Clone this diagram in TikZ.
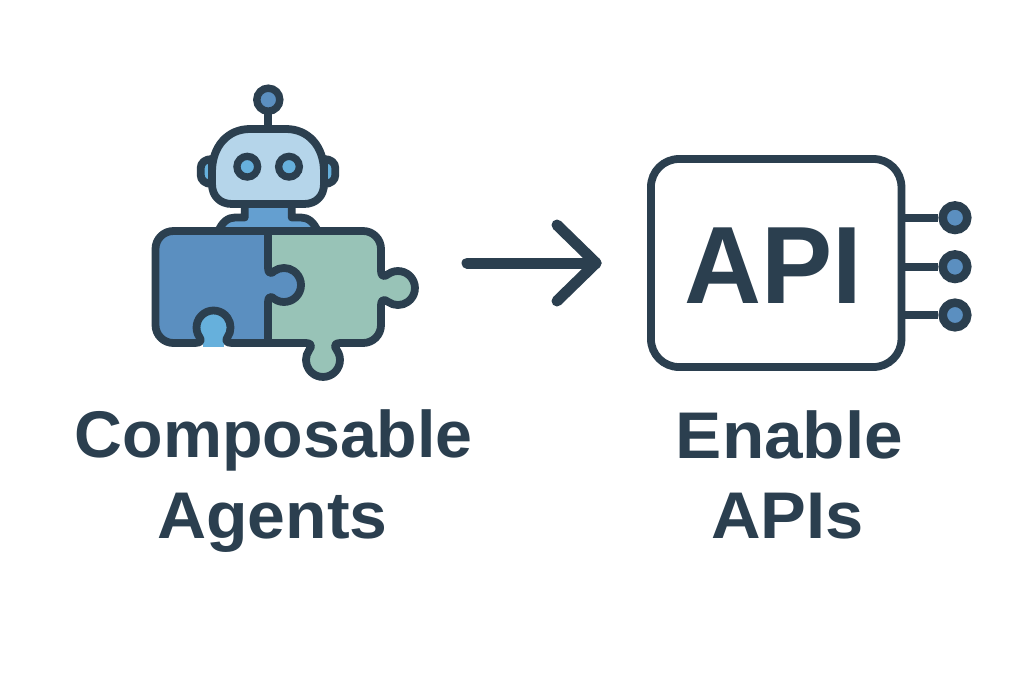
\documentclass[tikz,border=0pt]{standalone}
\usepackage{graphicx}
\usepackage{fontspec}
\setmainfont{Liberation Sans}
\definecolor{ink}{HTML}{2B3F4F}
\definecolor{pblue}{HTML}{5B8FC0}
\definecolor{pgreen}{HTML}{98C3B7}
\definecolor{plight}{HTML}{B5D5EA}
\definecolor{psky}{HTML}{66B0DC}
\definecolor{pneck}{HTML}{649FD0}
\tikzset{
  outline/.style={draw=ink,line width=7.8pt,line join=round},
  arrowline/.style={draw=ink,line width=11pt,line cap=round,line join=round},
  ring/.style={circle,draw=ink,inner sep=0pt},
  label/.style={text=ink,font=\bfseries\fontsize{66}{66}\selectfont,inner sep=0pt,anchor=base},
}
\begin{document}
\begin{tikzpicture}[x=1pt,y=-1pt]
\useasboundingbox[fill=white] (0,0) rectangle (1024,683);
% antenna
\draw[outline] (268,112) -- (268,129);
\node[ring,fill=pblue,line width=7.4pt,minimum size=23pt] (ant) at (268.3,99.7) {};
% ears
\draw[outline,fill=psky] (212,159) .. controls (205,159) and (200.7,163) .. (200.7,168) -- (200.7,175) .. controls (200.7,180) and (205,184) .. (212,184) -- cycle;
\draw[outline,fill=psky] (324,159) .. controls (331,159) and (335.3,163) .. (335.3,168) -- (335.3,175) .. controls (335.3,180) and (331,184) .. (324,184) -- cycle;
% neck and shoulders
\draw[outline,fill=pneck] (218,232) .. controls (222,222) and (228,217.5) .. (235,217.5) -- (244.7,217.5) -- (244.7,200) -- (291.7,200) -- (291.7,217.5) -- (301,217.5) .. controls (308,217.5) and (314,222) .. (318,232) -- cycle;
% head
\draw[outline,fill=plight] (212,184) -- (212,172) .. controls (212,146) and (228,129) .. (250,129) -- (286,129) .. controls (308,129) and (324,146) .. (324,172) -- (324,184) .. controls (324,196) and (316,204) .. (304,204) -- (232,204) .. controls (220,204) and (212,196) .. (212,184) -- cycle;
% eyes
\node[ring,fill=psky,line width=7.3pt,minimum size=20.7pt] (eyeL) at (247.3,166.7) {};
\node[ring,fill=psky,line width=7.3pt,minimum size=20.7pt] (eyeR) at (289,166.7) {};
% green piece
\draw[outline,fill=pgreen] (268,231) -- (363,231) .. controls (373,231) and (381,239) .. (381,249) -- (381,271)
  .. controls (381,277) and (384.5,277) .. (388.2,274.1)
  arc[start angle=125,end angle=-125,radius=17pt]
  .. controls (384.5,299) and (381,299) .. (381,305)
  -- (381,325) .. controls (381,335) and (373,343) .. (363,343) -- (340,343)
  .. controls (334,343) and (334,346.5) .. (336.9,350.2)
  arc[start angle=35,end angle=-215,radius=17pt]
  .. controls (312,346.5) and (312,343) .. (306,343)
  -- (268,343) -- cycle;
% notch interior
\fill[psky] (213.5,327.5) circle[radius=17pt];
\fill[psky] (203,325) rectangle (224,347);
% blue piece
\draw[outline,fill=pblue] (268,231) -- (173.5,231) .. controls (163.5,231) and (155.5,239) .. (155.5,249) -- (155.5,325)
  .. controls (155.5,335) and (163.5,343) .. (173.5,343) -- (195,343)
  .. controls (201.5,343) and (201.5,340) .. (199.6,337.25)
  arc[start angle=215,end angle=-35,radius=17pt]
  .. controls (225.5,340) and (225.5,343) .. (232,343)
  -- (268,343) -- (268,302)
  .. controls (268,296) and (271.5,296) .. (274.25,298.9)
  arc[start angle=-125,end angle=125,radius=17pt]
  .. controls (271.5,274) and (268,274) .. (268,268) -- cycle;
% arrow
\coordinate (arrS) at (467,263);
\coordinate (arrE) at (596,263);
\coordinate (arrU) at (557,225);
\coordinate (arrD) at (557,301);
\draw[arrowline] (arrS) -- (arrE);
\draw[arrowline] (arrU) -- (arrE) -- (arrD);
% API box
\node[draw=ink,line width=7.8pt,rounded corners=28pt,minimum width=250.5pt,minimum height=208pt,inner sep=0pt] (box) at (776.2,263) {};
\node[text=ink,font=\bfseries\fontsize{110}{110}\selectfont,inner sep=0pt,anchor=base] (api) at (773.3,303) {\scalebox{0.97}[1]{API}};
% pins
\foreach \n/\y in {a/217.7,b/266.7,c/315}{
  \node[ring,fill=pblue,line width=8.5pt,minimum size=24.6pt] (pin\n) at (955,\y) {};
  \draw[draw=ink,line width=8pt] (901.5,\y) -- (pin\n.west);
}
% labels
\node[label] (l1) at (273.8,457.7) {\scalebox{1.005}[1]{Composable}};
\node[label] (l2) at (272.5,538) {\scalebox{1.03}[1]{Agents}};
\node[label] (l3) at (789.5,458) {\scalebox{1.05}[1]{Enable}};
\node[label] (l4) at (787.7,538.5) {\scalebox{1.04}[1]{APIs}};
\end{tikzpicture}
\end{document}
